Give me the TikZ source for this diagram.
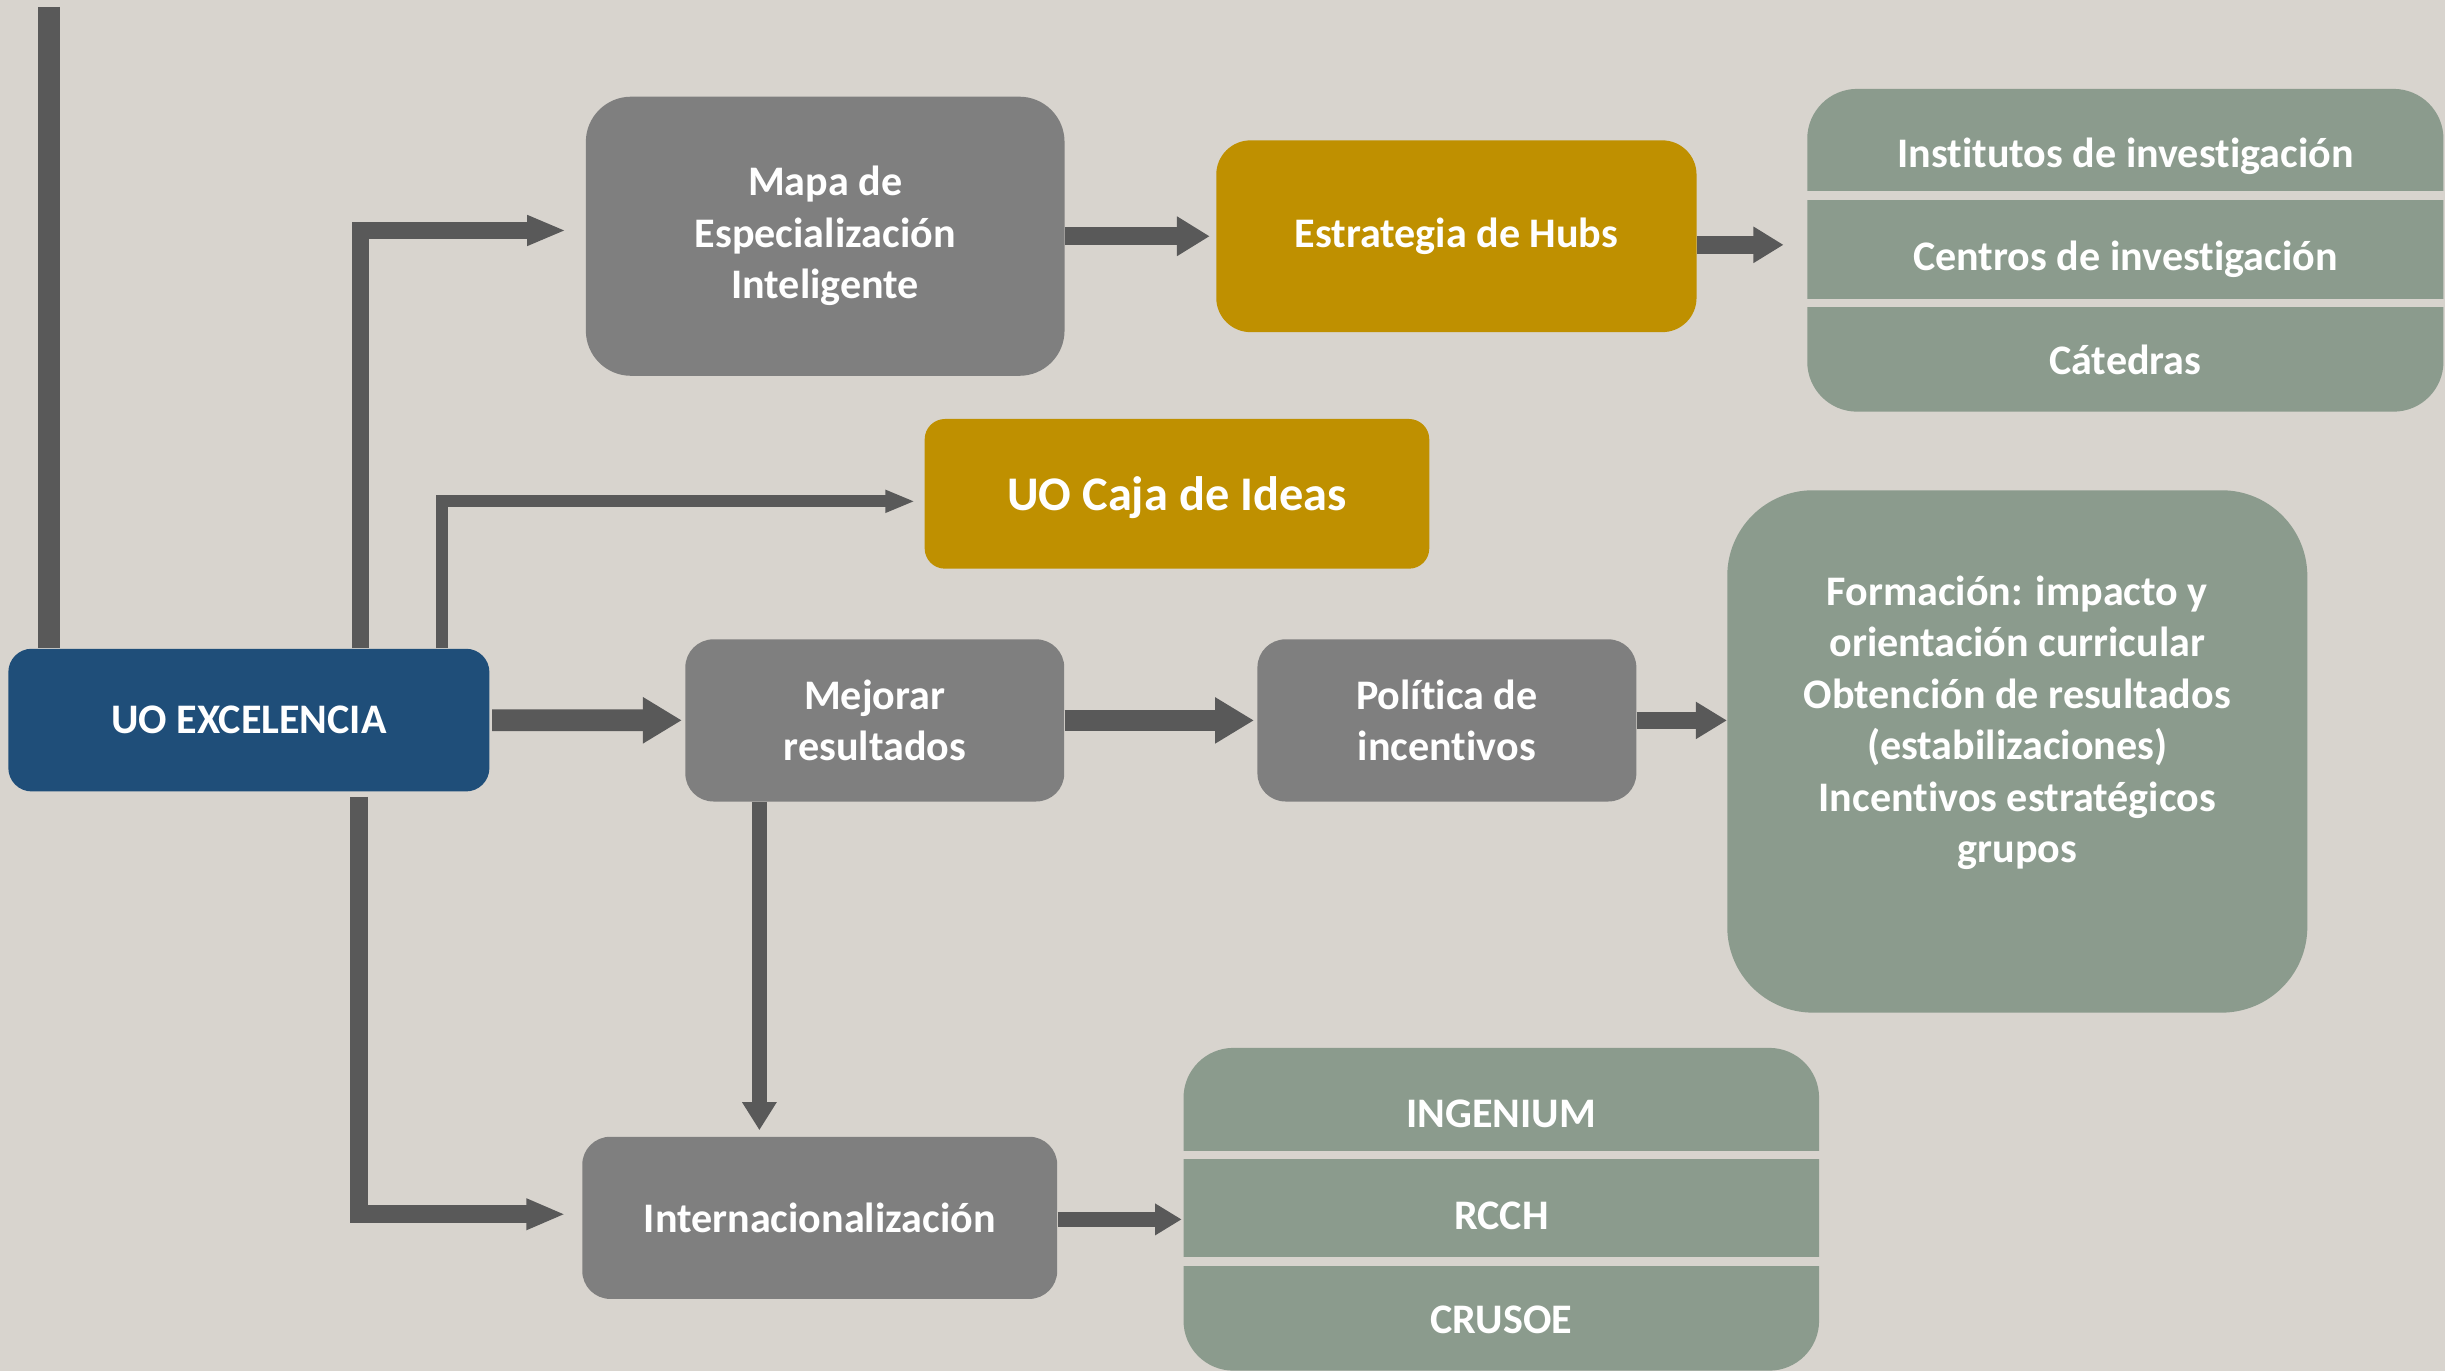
\documentclass[tikz,border=0pt]{standalone}
\usepackage{fontspec}
\setmainfont{Carlito}[Ligatures={NoCommon,NoContextual}]
\usetikzlibrary{arrows.meta, calc}

\definecolor{fondo}{RGB}{216,212,206}
\definecolor{grisbox}{RGB}{127,127,127}
\definecolor{flechagris}{RGB}{89,89,89}
\definecolor{azul}{RGB}{31,78,121}
\definecolor{oro}{RGB}{191,144,0}
\definecolor{salvia}{RGB}{139,155,141}

\tikzset{
  caja/.style={rounded corners=#1, inner sep=0pt, text=white, align=center,
    font=\bfseries\fontsize{27}{33}\selectfont},
  texto/.style={text=white, align=center, inner sep=0pt,
    font=\bfseries\fontsize{27}{33}\selectfont},
  flecha/.style n args={3}{draw=flechagris, line width=#1, line join=miter,
    -{Triangle[length=#2,width=#3]}}
}

\begin{document}
\begin{tikzpicture}[x=1pt, y=-1pt]
  \fill[fondo] (0,0) rectangle (1568,879);
  \useasboundingbox (0,0) rectangle (1568,879);

  % cajas principales
  \node[caja=15pt, fill=azul, minimum width=308.5pt, minimum height=91.5pt] (uo) at (159.6,461.8) {UO EXCELENCIA};
  \node[caja=29pt, fill=grisbox, minimum width=307pt, minimum height=179pt] (mapa) at (529.2,151.5) {Mapa de\\Especialización\\Inteligente};
  \node[caja=22pt, fill=oro, minimum width=308pt, minimum height=123pt] (hubs) at (934,151.5) {Estrategia de Hubs};
  \node[caja=13pt, fill=oro, minimum width=323.6pt, minimum height=96pt, text depth=0pt, font=\bfseries\fontsize{31}{37}\selectfont] (ideas) at (754.8,316.7) {UO Caja de Ideas};
  \node[caja=18pt, fill=grisbox, minimum width=243pt, minimum height=104pt] (mejorar) at (561,462) {Mejorar\\resultados};
  \node[caja=18pt, fill=grisbox, minimum width=243pt, minimum height=104pt] (politica) at (927.9,462) {Política de\\incentivos};
  \node[caja=18pt, fill=grisbox, minimum width=304.6pt, minimum height=104pt] (intern) at (525.7,781) {Internacionalización};

  % cajas de la derecha
  \node[caja=55pt, fill=salvia, minimum width=372pt, minimum height=335pt] (formacion) at (1293.7,481.9) {};
  \node[texto] (formtxt) at (1293.7,463.5) {Formación: impacto y\\orientación curricular\\Obtención de resultados\\(estabilizaciones)\\Incentivos estratégicos\\grupos};

  \node[caja=32pt, fill=salvia, minimum width=408pt, minimum height=207pt] (lista1) at (1363,160.5) {};
  \fill[fondo] (1150,122.8) rectangle (1570,128.2);
  \fill[fondo] (1150,191.9) rectangle (1570,196.9);
  \node[texto] (inst) at (1363,100.5) {Institutos de investigación};
  \node[texto] (centros) at (1363,166) {Centros de investigación};
  \node[texto] (catedras) at (1363,230.5) {Cátedras};

  \node[caja=32pt, fill=salvia, minimum width=407.6pt, minimum height=207pt] (lista2) at (962.8,775.5) {};
  \fill[fondo] (750,738) rectangle (1170,743.4);
  \fill[fondo] (750,806) rectangle (1170,812);
  \node[texto] (ingenium) at (962.8,714) {INGENIUM};
  \node[texto] (rcch) at (962.8,780) {RCCH};
  \node[texto] (crusoe) at (962.8,846.5) {CRUSOE};

  % flechas
  \coordinate (arriba) at (31.5,4.4);
  \draw[draw=flechagris, line width=14pt] (arriba) -- (arriba |- uo.north);
  \draw[flecha={11pt}{25pt}{18pt}, shorten >=12.5pt] ([xshift=71.4pt]uo.north) |- ([yshift=3.7pt]mapa.west);
  \draw[flecha={7.7pt}{19pt}{13.4pt}, shorten >=6pt] ([xshift=123.7pt]uo.north) |- ([yshift=-4.8pt]ideas.west);
  \draw[flecha={14pt}{25pt}{28pt}, shorten <=1.5pt, shorten >=2pt] (uo) -- (mejorar);
  \draw[flecha={11.4pt}{21pt}{24pt}, shorten >=4pt] (mapa) -- (hubs);
  \draw[flecha={11.7pt}{19.3pt}{22pt}, shorten >=15pt] ([yshift=-5.5pt]hubs.east) -- ([yshift=-5.5pt]hubs.east -| lista1.west);
  \draw[flecha={14pt}{25pt}{28pt}, shorten >=2pt] (mejorar) -- (politica);
  \draw[flecha={11.3pt}{20pt}{22.6pt}] (politica) -- (politica -| formacion.west);
  \draw[flecha={10pt}{18pt}{21pt}, shorten >=4pt] ([xshift=-74pt]mejorar.south) -- ([xshift=-74pt]mejorar.south |- intern.north);
  \draw[flecha={11.5pt}{25pt}{18.4pt}, shorten <=3.3pt, shorten >=10.6pt] ([xshift=70.4pt]uo.south) |- ([yshift=2.3pt]intern.west);
  \draw[flecha={9.6pt}{17pt}{19.2pt}, shorten >=1pt] ([yshift=-1pt]intern.east) -- ([yshift=-1pt]intern.east -| lista2.west);
\end{tikzpicture}
\end{document}
